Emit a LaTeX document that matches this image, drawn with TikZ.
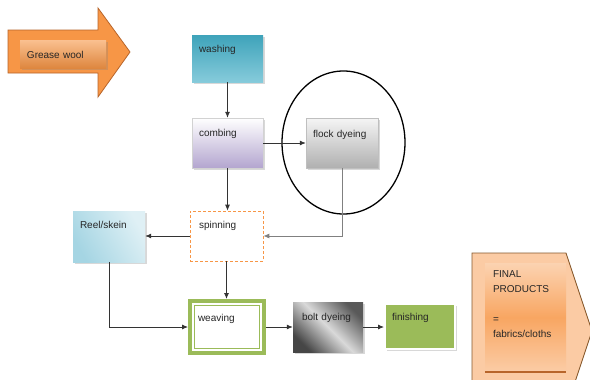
\documentclass[tikz,border=0pt]{standalone}
\usepackage{fontspec}
\setmainfont{Liberation Sans}
\usetikzlibrary{arrows.meta,shadows,shapes.geometric,calc}

\definecolor{orangeA}{HTML}{F79646}
\definecolor{orangeEdge}{HTML}{B8652A}
\definecolor{orangeLt}{HTML}{FAC090}
\definecolor{peach}{HTML}{FBCBA4}
\definecolor{tealTop}{HTML}{3EA3BA}
\definecolor{tealBot}{HTML}{86CBDB}
\definecolor{lavBot}{HTML}{B3A5CF}
\definecolor{greenA}{HTML}{9BBB59}
\definecolor{skyA}{HTML}{A5D5E3}
\definecolor{txt}{HTML}{262626}
\definecolor{wire}{HTML}{333333}

\begin{document}
\begin{tikzpicture}[x=1pt,y=-1pt,
  font=\fontsize{10}{15}\selectfont, text=txt,
  box/.style={rectangle, inner ysep=0pt, align=left},
  soft/.style={drop shadow={shadow xshift=1.5pt, shadow yshift=-1.5pt, opacity=0.3}},
  conn/.style={draw=wire, line width=0.8pt, -{Latex[length=6pt,width=5pt]}}]

\useasboundingbox[fill=white] (0,0) rectangle (590,380);

% incoming raw material arrow
\filldraw[fill=orangeA, draw=orangeEdge, line width=0.8pt]
  (8,30) -- (98,30) -- (98,8) -- (130,52) -- (98,97) -- (98,73) -- (8,73) -- cycle;
\node[box, soft, top color=orangeLt, bottom color=orangeA!90!black,
      inner xsep=7pt, text width=72pt, text height=18.5pt, text depth=9.5pt]
  (grease) at (63,54) {Grease wool};

% outgoing product arrow
\filldraw[fill=peach, draw=brown!70!black, line width=0.8pt]
  (472,253) -- (566,253) -- (592,331) -- (566,409) -- (472,409) -- cycle;
\node[rectangle, inner sep=0pt, minimum width=81pt, minimum height=109pt,
      top color=orangeLt!70!white, bottom color=orangeLt!80!white, middle color=orangeA!85]
  (prod) at (525.5,317.5) {};
\draw[orangeEdge, line width=1.5pt] (prod.south west) -- (prod.south east);
\node[anchor=north west, align=left, inner sep=0pt]
  (prodtxt) at ([shift={(8,8)}]prod.north west)
  {FINAL\\PRODUCTS\\[15pt]=\\fabrics/cloths};

% process steps
\node[box, soft, top color=tealTop, bottom color=tealBot,
      inner xsep=7pt, text width=57pt, text height=17.5pt, text depth=29.5pt]
  (wash) at (227.5,58.5) {washing};
\node[box, soft, top color=white, bottom color=lavBot, draw=gray!35,
      inner xsep=7pt, text width=57pt, text height=18.5pt, text depth=31.5pt]
  (comb) at (227.5,143) {combing};
\node[box, soft, top color=gray!8, bottom color=gray!62, draw=gray!50,
      inner xsep=7pt, text width=58pt, text height=19.5pt, text depth=30.5pt]
  (flock) at (342,143) {flock dyeing};
\node[box, fill=white, draw=orangeA, line width=0.7pt, dash pattern=on 3pt off 2pt,
      inner xsep=9pt, text width=55pt, text height=17.5pt, text depth=32.5pt]
  (spin) at (226.5,236) {spinning};
\node[box, soft, left color=skyA, right color=skyA!35, shading angle=120,
      inner xsep=7pt, text width=58pt, text height=17.5pt, text depth=33.5pt]
  (reel) at (109,236.5) {Reel/skein};
\node[box, fill=white, draw=greenA, line width=4pt,
      inner xsep=8pt, text width=58pt, text height=20.5pt, text depth=31.5pt]
  (weave) at (227,327) {weaving};
\draw[greenA, line width=0.9pt]
  ([shift={(6.5,6.5)}]weave.north west) rectangle ([shift={(-6.5,-6.5)}]weave.south east);
\node[box, soft, left color=gray!55!black, right color=gray!70!black, middle color=gray!30,
      shading angle=135,
      inner xsep=9pt, text width=52pt, text height=18.5pt, text depth=31.5pt]
  (bolt) at (328,327) {bolt dyeing};
\node[box, soft, fill=greenA, draw=white, line width=2pt,
      inner xsep=7pt, text width=56pt, text height=16.5pt, text depth=28.5pt]
  (fin) at (420,326.5) {finishing};

% highlight ring
\node[draw=black, ellipse, line width=1.3pt, inner sep=0pt,
      minimum width=123pt, minimum height=143pt] (ring) at (343.5,142.5) {};

% flow
\draw[conn] (wash) -- (comb);
\draw[conn] (comb) -- (flock);
\draw[conn] (comb.south) -- (comb.south |- spin.north);
\draw[conn, draw=gray] (flock.south) |- (spin.east);
\draw[conn] (spin.west) -- (spin.west -| reel.east);
\draw[conn] (spin.south) -- (spin.south |- weave.north);
\draw[conn] (reel.south) |- (weave.west);
\draw[conn] (weave) -- (bolt);
\draw[conn] (bolt.east) -- (bolt.east -| fin.west);
\end{tikzpicture}
\end{document}
